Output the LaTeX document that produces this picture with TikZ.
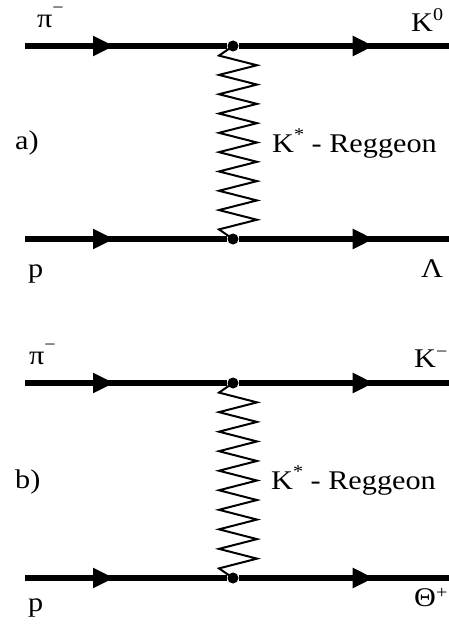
\documentclass[tikz,border=0pt]{standalone}
\usepackage{fontspec}
\setmainfont{Liberation Serif}[FakeStretch=1.12]
\usetikzlibrary{arrows.meta,decorations.markings}
\newcommand\hi[2]{\raisebox{#1}{\fontsize{18}{18}\selectfont #2}}
\tikzset{x=1pt,y=-1pt,
  fermion/.style={line width=5.5pt,postaction={decorate},
    decoration={markings,mark=at position #1 with {\arrow{Triangle[length=21pt,width=19pt]}}}},
  reggeon/.style={line width=2pt,line join=miter},
  vtx/.style={circle,fill,inner sep=0pt,minimum size=11pt},
  lab/.style={anchor=base west,inner sep=0pt,font=\fontsize{27}{27}\selectfont}}
\begin{document}
\begin{tikzpicture}
  \useasboundingbox (0,0) rectangle (449,626);
  % two exchange diagrams, a) above and b) below
  \foreach \n/\yt/\yb in {a/46/239,b/383/578}{
    \coordinate (\n-in1) at (25,\yt);
    \coordinate (\n-out1) at (452,\yt);
    \coordinate (\n-in2) at (25,\yb);
    \coordinate (\n-out2) at (452,\yb);
    \node[vtx] (\n-v1) at (233,\yt) {};
    \node[vtx] (\n-v2) at (233,\yb) {};
    \draw[fermion=89pt] (\n-in1) -- (\n-v1);
    \draw[fermion=135pt] (\n-v1) -- (\n-out1);
    \draw[fermion=89pt] (\n-in2) -- (\n-v2);
    \draw[fermion=135pt] (\n-v2) -- (\n-out2);
    \pgfmathsetmacro\st{(\yb-\yt-19.2)/18}
    \draw[reggeon] (\n-v1.center) -- ++(-14,9.6)
      \foreach \k in {1,...,9}{ -- ++(38,\st) -- ++(-38,\st)} -- (\n-v2.center);
  }
  % labels of diagram a)
  \node[lab] (pia) at (37,28) {π\hi{14pt}{−}};
  \node[lab] (kzero) at (411,32) {K\hi{11pt}{0}};
  \node[lab] (pa) at (28,277) {p};
  \node[lab] (lam) at (421,277) {Λ};
  \node[lab] (taga) at (15,149) {a)};
  \node[lab] (rega) at (272,152) {K\hi{12pt}{*} - Reggeon};
  % labels of diagram b)
  \node[lab] (pib) at (29,364) {π\hi{14pt}{−}};
  \node[lab] (kminus) at (414,367) {K\hi{10pt}{−}};
  \node[lab] (pb) at (28,611) {p};
  \node[lab] (theta) at (414,606) {Θ\hi{8pt}{+}};
  \node[lab] (tagb) at (15,488) {b)};
  \node[lab] (regb) at (271,489) {K\hi{12pt}{*} - Reggeon};
\end{tikzpicture}
\end{document}
